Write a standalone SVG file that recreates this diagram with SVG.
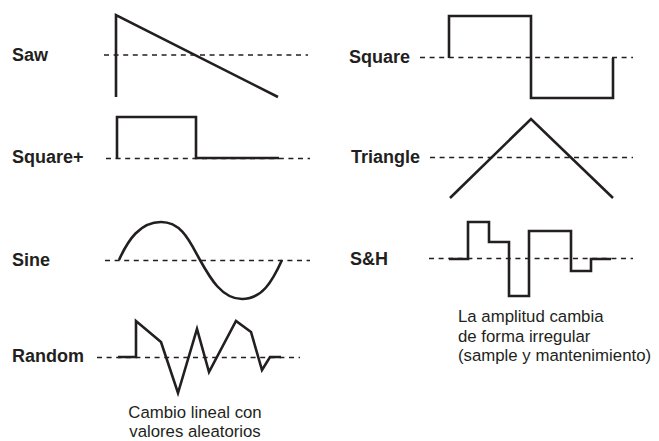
<svg xmlns="http://www.w3.org/2000/svg" width="659" height="441" viewBox="0 0 659 441">
<style>
.bg{fill:#fff}
.lbl{font-family:"Liberation Sans",Arial,sans-serif;font-weight:bold;font-size:18px;fill:#231f20}
.note{font-family:"Liberation Sans",Arial,sans-serif;font-size:16.8px;fill:#231f20}
.axis{stroke:#231f20;stroke-width:1.3;stroke-dasharray:5 4.6;fill:none}
.wave{stroke:#231f20;stroke-width:2.6;fill:none;stroke-linejoin:miter;stroke-linecap:butt}
</style>
<rect class="bg" width="659" height="441"/>
<g id="saw">
<text class="lbl" x="12" y="61">Saw</text>
<line class="axis" x1="104" y1="55" x2="308" y2="55"/>
<polyline class="wave" points="116,97 116,15 278,97"/>
</g>
<g id="square">
<text class="lbl" x="349" y="63">Square</text>
<line class="axis" x1="420" y1="57.5" x2="633" y2="57.5"/>
<polyline class="wave" points="449,58 449,16 531,16 531,98 613,98 613,58"/>
</g>
<g id="squareplus">
<text class="lbl" x="12" y="163">Square+</text>
<line class="axis" x1="106" y1="158.5" x2="310" y2="158.5"/>
<polyline class="wave" points="117,159 117,117 196,117 196,158 279,158"/>
</g>
<g id="triangle">
<text class="lbl" x="351" y="163">Triangle</text>
<line class="axis" x1="430" y1="157.5" x2="633" y2="157.5"/>
<polyline class="wave" points="450,198 531,119 613,198"/>
</g>
<g id="sine">
<text class="lbl" x="12" y="266">Sine</text>
<line class="axis" x1="105" y1="260.5" x2="310" y2="260.5"/>
<path class="wave" d="M119,260 C128,240 140,222 161,222 C182,222 190,242 200,260 C210,278 222,299 242,299 C262,299 272,282 282,260"/>
</g>
<g id="sh">
<text class="lbl" x="350" y="265">S&amp;H</text>
<line class="axis" x1="429" y1="258.5" x2="633" y2="258.5"/>
<polyline class="wave" points="449,259 468,259 468,222 489,222 489,242 509,242 509,296 529,296 529,231 571,231 571,271 591,271 591,259 611,259"/>
<text class="note" x="458" y="322">La amplitud cambia</text>
<text class="note" x="458" y="342">de forma irregular</text>
<text class="note" x="458" y="361">(sample y mantenimiento)</text>
</g>
<g id="random">
<text class="lbl" x="12" y="362">Random</text>
<line class="axis" x1="97" y1="357.5" x2="300" y2="357.5"/>
<polyline class="wave" points="118,357 136,357 136,321 161,342 178,393 197,329 209,372 236,321 251,332 262,370 270,357 281,357"/>
<text class="note" x="195" y="418" text-anchor="middle">Cambio lineal con</text>
<text class="note" x="195" y="437" text-anchor="middle">valores aleatorios</text>
</g>
</svg>
